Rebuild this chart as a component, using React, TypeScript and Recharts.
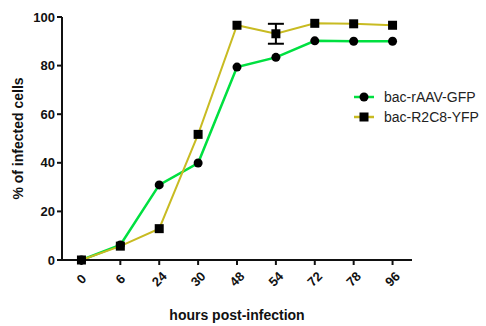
import React from 'react';
import { LineChart, Line, XAxis, YAxis, Legend, ErrorBar } from 'recharts';

const hours = ['0', '6', '24', '30', '48', '54', '72', '78', '96'];
const gfp = [0, 6.2, 30.9, 39.9, 79.4, 83.4, 90.2, 90.0, 90.0];
const yfp = [0, 5.7, 12.9, 51.7, 96.6, 93.1, 97.4, 97.2, 96.6];
const yfpErr: (number | null)[] = [null, null, null, null, null, 4.1, null, null, null];
const yTicks = [0, 20, 40, 60, 80, 100];

const GREEN = '#00e040';
const YELLOW = '#c8bb22';

const data = hours.map((h, i) => ({ h, gfp: gfp[i], yfp: yfp[i], err: yfpErr[i] }));

const FONT = '"Liberation Sans", Arial, sans-serif';

const XTick = (props: any) => {
  const { x, y, payload } = props;
  return (
    <text
      x={x}
      y={y + 12}
      transform={`rotate(-45 ${x} ${y + 12})`}
      textAnchor="middle"
      dominantBaseline="central"
      fontSize={13}
      fontWeight="bold"
      fontFamily={FONT}
      fill="#111"
    >
      {payload.value}
    </text>
  );
};

const SquareDot = (props: any) => {
  const { cx, cy, index } = props;
  if (cx == null || cy == null) return null;
  return <rect key={index} x={cx - 4.5} y={cy - 4.5} width={9} height={9} fill="#000" />;
};

const CircleDot = (props: any) => {
  const { cx, cy, index } = props;
  if (cx == null || cy == null) return null;
  return <circle key={index} cx={cx} cy={cy} r={4.5} fill="#000" />;
};

const LegendContent = () => (
  <div style={{ fontFamily: FONT, fontSize: 14, color: '#222' }}>
    {[
      { name: 'bac-rAAV-GFP', color: GREEN, sq: false },
      { name: 'bac-R2C8-YFP', color: YELLOW, sq: true },
    ].map((it) => (
      <div key={it.name} style={{ display: 'flex', alignItems: 'center', height: 20 }}>
        <svg width={30} height={20}>
          <line x1={0} y1={10} x2={20} y2={10} stroke={it.color} strokeWidth={2.5} />
          {it.sq ? <rect x={5.5} y={5.5} width={9} height={9} fill="#000" /> : <circle cx={10} cy={10} r={4.5} fill="#000" />}
        </svg>
        <span>{it.name}</span>
      </div>
    ))}
  </div>
);

export default function App() {
  return (
    <div style={{ position: 'absolute', left: 0, top: 0, background: '#fff' }}>
      <LineChart width={486} height={326} data={data} margin={{ top: 17, right: 74, bottom: 0, left: 0 }}>
        <XAxis
          dataKey="h"
          scale="band"
          height={66}
          tick={<XTick />}
          tickLine={{ stroke: '#111', strokeWidth: 2 }}
          axisLine={{ stroke: '#111', strokeWidth: 2 }}
          tickSize={5}
          interval={0}
          label={{
            content: (p: any) => {
              const vb = p.viewBox;
              return (
                <text
                  x={vb.x + vb.width / 2}
                  y={vb.y + 60}
                  textAnchor="middle"
                  fontSize={14}
                  fontWeight="bold"
                  fontFamily={FONT}
                  fill="#111"
                >
                  hours post-infection
                </text>
              );
            },
          }}
        />
        <YAxis
          width={62}
          domain={[0, 100]}
          ticks={yTicks}
          tick={{ fontSize: 13, fontWeight: 'bold', fontFamily: FONT, fill: '#111' }}
          tickLine={{ stroke: '#111', strokeWidth: 2 }}
          axisLine={{ stroke: '#111', strokeWidth: 2 }}
          tickSize={5}
          label={{
            content: (p: any) => {
              const vb = p.viewBox;
              const cx = vb.x + 18;
              const cy = vb.y + vb.height / 2;
              return (
                <text
                  x={cx}
                  y={cy}
                  transform={`rotate(-90 ${cx} ${cy})`}
                  textAnchor="middle"
                  dominantBaseline="central"
                  fontSize={14}
                  fontWeight="bold"
                  fontFamily={FONT}
                  fill="#111"
                >
                  % of infected cells
                </text>
              );
            },
          }}
        />
        <Legend
          layout="horizontal"
          verticalAlign="middle"
          align="center"
          content={<LegendContent />}
          wrapperStyle={{ position: 'absolute', left: 354, top: 87, width: 140 }}
        />
        <Line
          dataKey="gfp"
          name="bac-rAAV-GFP"
          stroke={GREEN}
          strokeWidth={2.5}
          dot={<CircleDot />}
          activeDot={false}
          isAnimationActive={false}
        />
        <Line
          dataKey="yfp"
          name="bac-R2C8-YFP"
          stroke={YELLOW}
          strokeWidth={2}
          dot={<SquareDot />}
          activeDot={false}
          isAnimationActive={false}
        >
          <ErrorBar dataKey="err" width={8} strokeWidth={2} stroke="#000" isAnimationActive={false} />
        </Line>
      </LineChart>
    </div>
  );
}
